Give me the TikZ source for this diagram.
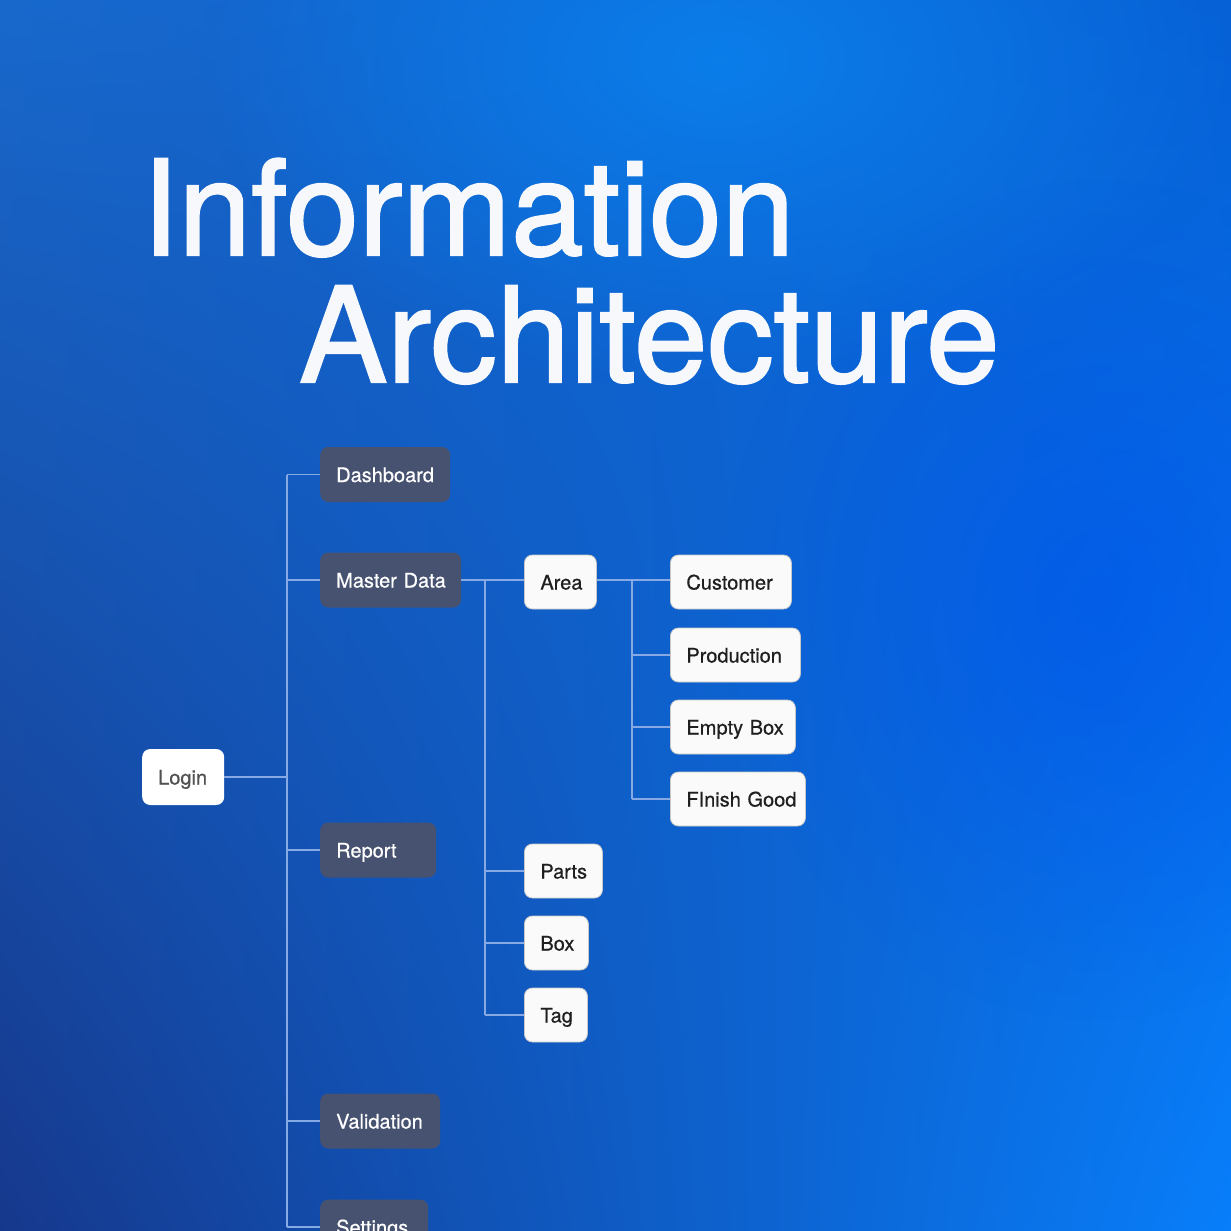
\documentclass[tikz,border=0pt]{standalone}
\usepackage{fontspec}
\setmainfont{TeX Gyre Heros}
\newfontfamily\titlefont[FakeBold=1.6]{TeX Gyre Heros}
\newfontfamily\boxfont[FakeBold=0.6]{TeX Gyre Heros}
\usetikzlibrary{fadings,shadings}
\definecolor{bgUL}{RGB}{24,104,204}
\definecolor{bgUR}{RGB}{6,96,214}
\definecolor{bgLL}{RGB}{22,56,140}
\definecolor{bgLR}{RGB}{8,126,250}
\definecolor{glowA}{RGB}{10,132,240}
\definecolor{glowB}{RGB}{0,84,236}
\definecolor{darkbox}{RGB}{70,82,112}
\definecolor{lightbox}{RGB}{250,250,250}
\definecolor{lineC}{RGB}{135,170,228}
\definecolor{titleC}{RGB}{246,248,251}
\tikzfading[name=glowfade, inner color=transparent!0, outer color=transparent!100]
\tikzset{
  title/.style={anchor=base west, inner sep=0pt, text=titleC, font=\titlefont\fontsize{132}{132}\selectfont},
  boxbase/.style={rectangle, rounded corners=8pt, anchor=west, minimum height=55pt, inner xsep=16pt, inner ysep=0pt, text height=15pt, text depth=0pt, align=left, font=\boxfont\fontsize{20}{24}\selectfont},
  darkbox/.style={boxbase, fill=darkbox, text=white},
  lightbox/.style={boxbase, minimum height=54pt, fill=lightbox, draw=black!22, line width=0.8pt, text=black!88},
  loginbox/.style={boxbase, minimum height=56pt, fill=white, text=black!68},
  conn/.style={draw=lineC, line width=1.5pt}
}
\begin{document}
\begin{tikzpicture}[x=1pt,y=-1pt]
\useasboundingbox (0,0) rectangle (1231,1231);
\clip (0,0) rectangle (1231,1231);
\shade[upper left=bgUL, upper right=bgUR, lower left=bgLL, lower right=bgLR] (0,0) rectangle (1231,1231);
\fill[glowA, path fading=glowfade, opacity=0.8] (720,60) ellipse (520 and 330);
\fill[glowB, path fading=glowfade, opacity=0.6] (1100,600) ellipse (380 and 420);

\node[title, xscale=0.99, transform shape] (t1) at (142,255) {Information};
\node[title] (t2) at (299,382) {Architecture};

\coordinate (tk) at (287,0);
\coordinate (c2) at (485,0);
\coordinate (c3) at (632,0);

\node[loginbox, text width=50pt] (login) at (142,777) {Login};
\node[darkbox, text width=98pt] (dash) at (320,474.5) {Dashboard};
\node[darkbox, text width=109pt] (md) at (320,580) {\mbox{Master Data}};
\node[darkbox, text width=84pt] (rep) at (320,850) {Report};
\node[darkbox, text width=88pt] (val) at (320,1121) {Validation};
\node[darkbox, text width=76pt] (set) at (320,1227) {Settings};

\node[lightbox, text width=40pt] (area) at (524,582) {Area};
\node[lightbox, text width=89pt] (cust) at (670,582) {Customer};
\node[lightbox, text width=98pt] (prod) at (670,655) {Production};
\node[lightbox, text width=93pt] (empty) at (670,727) {\mbox{Empty Box}};
\node[lightbox, text width=103pt] (fin) at (670,799) {\mbox{FInish Good}};
\node[lightbox, text width=46pt] (parts) at (524,871) {Parts};
\node[lightbox, text width=32pt] (box) at (524,943) {Box};
\node[lightbox, text width=31pt] (tag) at (524,1015) {Tag};

\draw[conn] (login.east) -- (login.east -| tk);
\draw[conn] (dash.west -| tk) -- (set.west -| tk);
\foreach \n in {dash,md,rep,val,set} \draw[conn] (\n.west -| tk) -- (\n.west);
\draw[conn] (md.east) -- (md.east -| area.west);
\draw[conn] (md.east -| c2) -- (tag.west -| c2);
\foreach \n in {parts,box,tag} \draw[conn] (\n.west -| c2) -- (\n.west);
\draw[conn] (area.east |- md.east) -- (cust.west |- md.east);
\draw[conn] (md.east -| c3) -- (fin.west -| c3);
\foreach \n in {prod,empty,fin} \draw[conn] (\n.west -| c3) -- (\n.west);
\end{tikzpicture}
\end{document}
